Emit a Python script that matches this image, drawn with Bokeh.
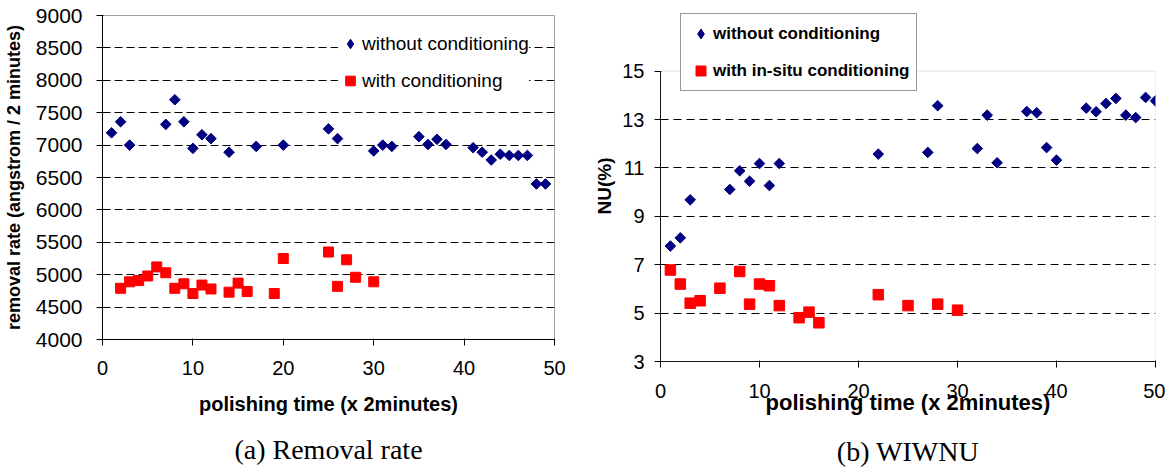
import math
from bokeh.plotting import figure
from bokeh.models import Range1d, FixedTicker, Legend, LegendItem, BoxAnnotation, LinearAxis
from bokeh.layouts import row
from bokeh.embed import file_html
from bokeh.resources import INLINE

# ---------------- data: (a) removal rate ----------------
rr_t_without = [1, 2, 3, 7, 8, 9, 10, 11, 12, 14, 17, 20, 25, 26, 30, 31, 32, 35, 36, 37, 38,
                41, 42, 43, 44, 45, 46, 47, 48, 49]
rr_without = [7190, 7360, 7000, 7320, 7700, 7360, 6950, 7160, 7100, 6890, 6980, 7000, 7250, 7100,
              6910, 7000, 6980, 7130, 7010, 7090, 7010, 6960, 6890, 6770, 6860, 6840, 6840, 6840,
              6400, 6400]
rr_t_with = [2, 3, 4, 5, 6, 7, 8, 9, 10, 11, 12, 14, 15, 16, 19, 20, 25, 26, 27, 28, 30]
rr_with = [4790, 4890, 4910, 4980, 5120, 5030, 4790, 4860, 4710, 4840, 4780, 4730, 4870, 4740,
           4710, 5250, 5350, 4820, 5230, 4960, 4890]
rr_y_ticks = [4000, 4500, 5000, 5500, 6000, 6500, 7000, 7500, 8000, 8500, 9000]

# ---------------- data: (b) WIWNU ----------------
nu_t_without = [1, 2, 3, 7, 8, 9, 10, 11, 12, 22, 27, 28, 32, 33, 34, 37, 38, 39, 40, 43, 44, 45,
                46, 47, 48, 49, 50]
nu_without = [7.77, 8.11, 9.68, 10.11, 10.88, 10.45, 11.18, 10.27, 11.18, 11.57, 11.64, 13.57,
              11.80, 13.18, 11.21, 13.33, 13.28, 11.84, 11.32, 13.47, 13.32, 13.66, 13.87, 13.18,
              13.08, 13.91, 13.77]
nu_t_with = [1, 2, 3, 4, 6, 8, 9, 10, 11, 12, 14, 15, 16, 22, 25, 28, 30]
nu_with = [6.78, 6.20, 5.41, 5.51, 6.03, 6.72, 5.37, 6.20, 6.13, 5.31, 4.81, 5.04, 4.60, 5.76,
           5.31, 5.37, 5.12]
nu_y_ticks = [3, 5, 7, 9, 11, 13, 15]
nu_grid_ticks = [5, 7, 9, 11, 13]
nu_y_min, nu_y_max = 3, 15

x_ticks = [0, 10, 20, 30, 40, 50]

NAVY = "#000080"
RED = "#ff0000"
FRAME_GRAY = "#a0a0a0"
SANS = "Liberation Sans"
SERIF = "Liberation Serif"


def style_axes(p, xsize, ysize):
    for ax in (p.xaxis[0], p.yaxis[0]):
        ax.axis_line_color = "black"
        ax.major_tick_line_color = "black"
        ax.minor_tick_line_color = None
        ax.major_tick_out = 6
        ax.major_tick_in = 1
        ax.major_label_text_color = "black"
        ax.major_label_text_font = SANS
        ax.axis_label_text_font = SANS
        ax.axis_label_text_font_style = "bold"
        ax.axis_label_text_color = "black"
    p.xaxis[0].major_label_text_font_size = xsize
    p.yaxis[0].major_label_text_font_size = ysize
    p.xgrid.visible = False
    p.ygrid.grid_line_color = "black"
    p.ygrid.grid_line_width = 1
    p.background_fill_color = "white"
    p.border_fill_color = "white"
    p.frame_align = False


def caption(p, text, standoff):
    # tick-less extra bottom axis whose label serves as the sub-figure caption
    cap = LinearAxis(ticker=FixedTicker(ticks=[]), axis_label=text,
                     axis_label_text_font=SERIF, axis_label_text_font_size="28px",
                     axis_label_text_font_style="normal", axis_label_text_color="black",
                     axis_label_standoff=standoff, axis_line_color=None,
                     major_tick_line_color=None, minor_tick_line_color=None,
                     major_tick_out=0, major_tick_in=0, minor_tick_out=0, minor_tick_in=0,
                     major_label_standoff=0, major_label_text_font_size="0px")
    p.add_layout(cap, "below")


# ---------------- figure (a) ----------------
p1 = figure(frame_width=452, frame_height=324, min_border_left=101, min_border_right=30,
            min_border_top=15, min_border_bottom=132,
            x_range=Range1d(0, 50), y_range=Range1d(4000, 9000),
            output_backend="svg", toolbar_location=None, tools="")
style_axes(p1, "20px", "21px")
p1.outline_line_color = FRAME_GRAY
p1.xaxis.ticker = FixedTicker(ticks=x_ticks)
p1.yaxis.ticker = FixedTicker(ticks=rr_y_ticks)
p1.ygrid.grid_line_dash = "8 4"
p1.xaxis.axis_label = "polishing time (x 2minutes)"
p1.xaxis.axis_label_text_font_size = "20px"
p1.xaxis.major_label_standoff = 15
p1.xaxis.axis_label_standoff = 15
p1.yaxis.axis_label = "removal rate (angstrom / 2 minutes)"
p1.yaxis.axis_label_text_font_size = "18px"
p1.yaxis.major_label_standoff = 14
p1.yaxis.axis_label_standoff = 9

a1 = p1.scatter(rr_t_without, rr_without, marker="square", size=7.5, angle=math.pi / 4,
                color=NAVY)
a2 = p1.scatter(rr_t_with, rr_with, marker="square", size=10, color=RED)
# legend-only twin of the navy series (legend glyphs ignore the marker angle)
a1_leg = p1.scatter(rr_t_without, rr_without, marker="diamond", size=13, color=NAVY,
                    visible=False)

leg1 = Legend(items=[LegendItem(label="without conditioning", renderers=[a1_leg]),
                     LegendItem(label="with conditioning", renderers=[a2])],
              location=(236, 246), border_line_color=None, background_fill_color="white",
              background_fill_alpha=1.0, padding=13, spacing=12, margin=0,
              glyph_width=24, glyph_height=25, label_height=25, label_standoff=0,
              inactive_fill_alpha=0.0,
              label_text_font=SANS, label_text_font_size="19px", label_text_color="black")
p1.add_layout(leg1)
caption(p1, "(a) Removal rate", 16)

# ---------------- figure (b) ----------------
# the frame extends above y=15 so that the boxed legend can overlap the plot's top edge
p2 = figure(frame_width=495, frame_height=351, min_border_left=76, min_border_right=10,
            min_border_top=10, min_border_bottom=110,
            x_range=Range1d(0, 50), y_range=Range1d(nu_y_min, nu_y_min + 351 / 24.2),
            output_backend="svg", toolbar_location=None, tools="")
style_axes(p2, "20px", "20px")
p2.outline_line_color = None
p2.add_layout(BoxAnnotation(left=0, right=50, bottom=nu_y_min, top=nu_y_max,
                            fill_color=None, line_color=FRAME_GRAY, line_width=1))
p2.xaxis.ticker = FixedTicker(ticks=x_ticks)
p2.yaxis.ticker = FixedTicker(ticks=nu_y_ticks)
p2.yaxis.bounds = (nu_y_min, nu_y_max)
p2.ygrid.ticker = FixedTicker(ticks=nu_grid_ticks)
p2.ygrid.grid_line_dash = "8 5"
p2.xaxis.axis_label = "polishing time (x 2minutes)"
p2.xaxis.axis_label_text_font_size = "22px"
p2.xaxis.major_label_standoff = 16
p2.xaxis.axis_label_standoff = -11
p2.yaxis.axis_label = "NU(%)"
p2.yaxis.axis_label_text_font_size = "19px"
p2.yaxis.major_label_standoff = 10
p2.yaxis.axis_label_standoff = 4

b1 = p2.scatter(nu_t_without, nu_without, marker="square", size=7.5, angle=math.pi / 4,
                color=NAVY)
b2 = p2.scatter(nu_t_with, nu_with, marker="square", size=10.5, color=RED)
b1_leg = p2.scatter(nu_t_without, nu_without, marker="diamond", size=13, color=NAVY,
                    visible=False)

leg2 = Legend(items=[LegendItem(label="without conditioning", renderers=[b1_leg]),
                     LegendItem(label="with in-situ conditioning", renderers=[b2])],
              location=(20, 270), border_line_color="#303030", border_line_width=1,
              background_fill_color="white", background_fill_alpha=1.0,
              padding=7, spacing=12, margin=0,
              glyph_width=25, glyph_height=25, label_height=25, label_standoff=0,
              inactive_fill_alpha=0.0,
              label_text_font=SANS, label_text_font_size="17px",
              label_text_font_style="bold", label_text_color="black")
p2.add_layout(leg2)
caption(p2, "(b) WIWNU", 18)

layout = row(p1, p2)
open("out.html", "w").write(file_html(layout, INLINE))
